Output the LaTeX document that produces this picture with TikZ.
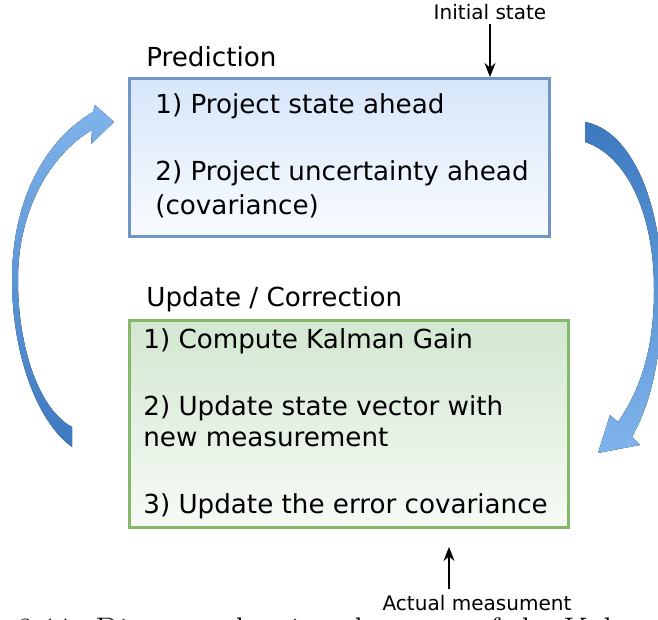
\documentclass[tikz,border=0pt]{standalone}
\usepackage{fontspec}
\usepackage{tikz}
\usetikzlibrary{positioning, arrows.meta, calc}
\newfontfamily\dejavu{DejaVu Sans}
\definecolor{predbordo}{HTML}{7096C8}
\definecolor{predfondo}{HTML}{D6E6FA}
\definecolor{aggbordo}{HTML}{86B86A}
\definecolor{aggfondo}{HTML}{D3E7D1}
\definecolor{frecciachiara}{HTML}{80B4EC}
\definecolor{frecciascura}{HTML}{3C79C0}
\tikzset{
	>={Stealth[length=2.8mm, width=2.2mm]},
	% riquadro della fase di predizione
	bloccopred/.style={draw=predbordo, line width=1.7pt, rectangle, top color=predfondo, bottom color=predfondo!15,
	                   minimum width=8.4cm, minimum height=3.16cm, inner sep=0pt},
	% riquadro della fase di aggiornamento
	bloccoagg/.style={draw=aggbordo, line width=1.7pt, rectangle, top color=aggfondo, bottom color=aggfondo!20,
	                  minimum width=8.78cm, minimum height=4.14cm, inner sep=0pt},
	% righe di testo nei riquadri
	voce/.style={anchor=base west, inner sep=0pt, font=\dejavu\fontsize{14.9}{18}\selectfont},
	% etichette piccole (ingressi)
	etichetta/.style={anchor=base, inner sep=0pt, font=\dejavu\fontsize{11.4}{14}\selectfont},
	% segnale in ingresso
	seg/.style={->, line width=0.85pt},
	% didascalia (tagliata in basso)
	didascalia/.style={anchor=base west, inner sep=0pt, font=\rmfamily\fontsize{19.4}{23}\selectfont},
}

\begin{document}
\begin{tikzpicture}
    \useasboundingbox (0,0) rectangle (13.16,12.38);
    \clip (0,0) rectangle (13.16,12.38);

    % ---------------- predizione ----------------
    \node[voce] (tpred) at (2.92,11.04) {Prediction};
    \node[bloccopred] (pred) at (6.79,9.23) {};
    \node[voce] (p1) at (3.10,10.10) {1) Project state ahead};
    \node[voce] (p2) at (3.10,8.76) {2) Project uncertainty ahead};
    \node[voce] (p2b) at (3.10,8.08) {(covariance)};

    % ---------------- aggiornamento ----------------
    \node[voce] (tagg) at (2.92,6.24) {Update / Correction};
    \node[bloccoagg] (agg) at (6.98,3.90) {};
    \node[voce] (u1) at (2.86,5.40) {1) Compute Kalman Gain};
    \node[voce] (u2) at (2.86,4.06) {2) Update state vector with};
    \node[voce] (u2b) at (2.86,3.44) {new measurement};
    \node[voce] (u3) at (2.86,2.10) {3) Update the error covariance};

    % ---------------- ingressi ----------------
    \node[etichetta] (iniz) at (9.80,11.98) {Initial state};
    \draw[seg] ([yshift=-2pt]iniz.south) -- (iniz.south |- pred.north);

    \node[etichetta] (misura) at (9.54,0.16) {Actual measument};
    \coordinate (mis0) at (8.98,0.60);
    \coordinate (mis1) at (8.98,1.44);
    \draw[seg] (mis0) -- (mis1);

    % ---------------- frecce del ciclo ----------------
    % da aggiornamento a predizione (a sinistra)
    \fill[top color=frecciachiara, bottom color=frecciascura]
        (1.44,3.44) .. controls (0.70,3.98) and (0.24,5.38) .. (0.24,6.78)
        .. controls (0.24,8.38) and (0.90,9.58) .. (1.86,10.14)
        -- (1.90,10.28) -- (2.28,9.94) -- (1.82,9.50) -- (1.84,9.78)
        .. controls (1.00,9.28) and (0.36,8.18) .. (0.36,6.78)
        .. controls (0.36,5.38) and (0.80,4.18) .. (1.44,3.84) -- cycle;
    % da predizione ad aggiornamento (a destra)
    \fill[top color=frecciascura, bottom color=frecciachiara]
        (11.70,9.94) .. controls (12.60,9.78) and (13.24,8.38) .. (13.24,6.58)
        .. controls (13.24,5.18) and (13.00,4.28) .. (12.64,3.64)
        -- (12.80,3.48) -- (11.96,3.32) -- (12.20,4.08) -- (12.36,3.94)
        .. controls (12.80,4.58) and (13.08,5.38) .. (13.08,6.58)
        .. controls (13.08,8.18) and (12.50,9.28) .. (11.70,9.54) -- cycle;

    % ---------------- didascalia ----------------
    \node[didascalia] (dida) at (1.90,-0.45) {\llap{Figure 3.11: }Diagram showing the steps of the Kalman filter};
\end{tikzpicture}
\end{document}
